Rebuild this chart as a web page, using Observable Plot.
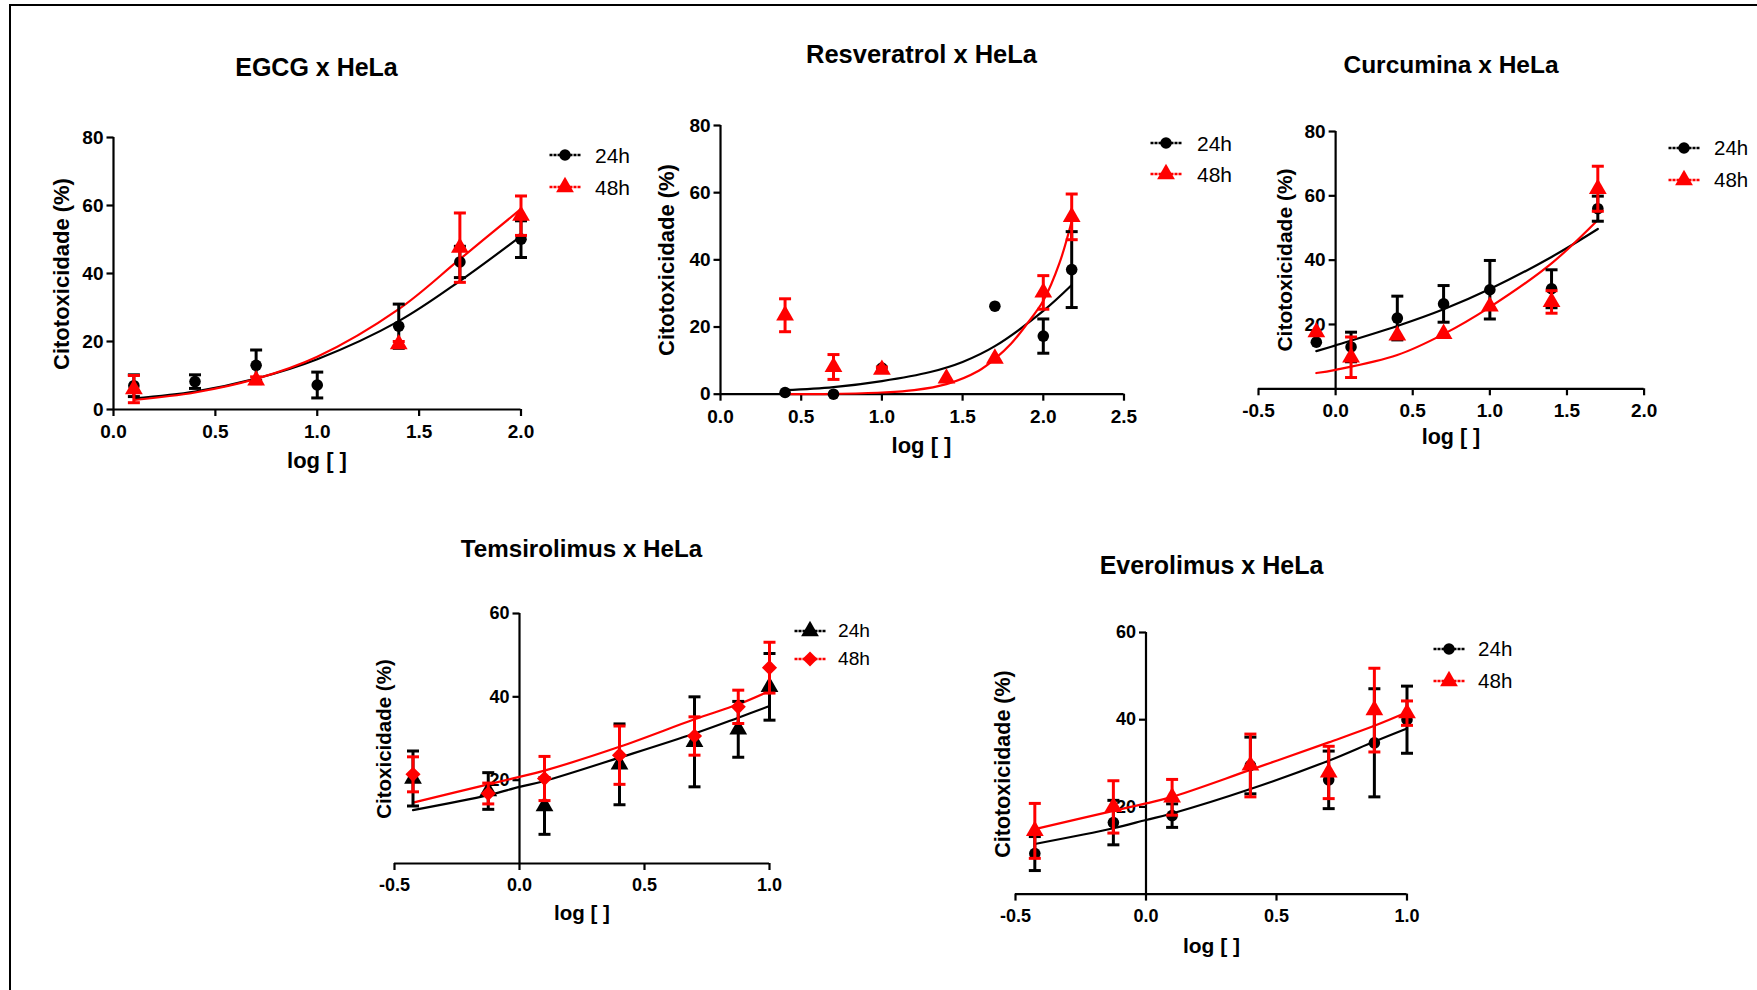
<!DOCTYPE html>
<html>
<head>
<meta charset="utf-8">
<script src="https://cdn.jsdelivr.net/npm/d3@7"></script>
<script src="https://cdn.jsdelivr.net/npm/@observablehq/plot@0.6"></script>
<style>
  html, body { margin: 0; padding: 0; background: #fff; }
  #root { position: relative; width: 1757px; height: 990px; overflow: hidden;
          font-family: "Liberation Sans", Arial, Helvetica, sans-serif; color: #000; }
  .frame { position: absolute; left: 9px; top: 4px; right: 0; bottom: 0;
           border-left: 2.5px solid #000; border-top: 2px solid #000; }
  .abs { position: absolute; white-space: nowrap; line-height: 1; }
  .plotbox { position: absolute; }
</style>
</head>
<body>
<div id="root"><div class="frame"></div></div>
<script>
// ================= DATA =================
// EGCG x HeLa
const egcgX      = [0.1, 0.4, 0.7, 1.0, 1.4, 1.7, 2.0];
const egcg24     = [7.0, 8.2, 13.0, 7.2, 24.5, 43.4, 50.1];
const egcg24sd   = [3.2, 2.0, 4.5, 3.8, 6.5, 4.6, 5.4];
const egcg48     = [6.0, null, 8.6, null, 19.2, 47.6, 57.0];
const egcg48sd   = [4.0, 0, 1.0, 0, 0.8, 10.2, 5.8];
const egcgFitX   = [0.1, 0.4, 0.7, 1.0, 1.4, 1.7, 2.0];
const egcgFit24  = [3.3, 5.3, 9.1, 14.8, 26.0, 37.8, 51.0];
const egcgFit48  = [2.8, 5.0, 9.0, 15.5, 29.5, 44.2, 59.0];

// Resveratrol x HeLa
const resX       = [0.4, 0.7, 1.0, 1.4, 1.7, 2.0, 2.176];
const res24      = [0.5, 0.0, 7.8, null, 26.2, 17.3, 37.1];
const res24sd    = [0, 0, 0, 0, 0, 5.1, 11.3];
const res48      = [23.5, 8.1, 7.3, 4.7, 10.6, 30.3, 52.8];
const res48sd    = [4.9, 3.7, 0.8, 0, 0, 5.0, 6.8];
const resFitX24  = [0.4, 0.7, 1.0, 1.3, 1.5, 1.7, 2.0, 2.176];
const resFit24   = [1.2, 2.1, 3.9, 6.6, 9.6, 14.3, 24.8, 32.5];
const resFitX48  = [0.4, 0.7, 1.0, 1.2, 1.4, 1.6, 1.7, 1.8, 1.9, 2.0, 2.1, 2.176];
const resFit48   = [0.0, 0.1, 0.5, 1.2, 3.0, 7.0, 10.5, 15.0, 21.0, 27.8, 39.0, 51.5];

// Curcumina x HeLa
const curX       = [-0.125, 0.1, 0.4, 0.7, 1.0, 1.4, 1.7];
const cur24      = [14.5, 13.0, 22.0, 26.4, 30.8, 31.1, 56.0];
const cur24sd    = [0, 4.6, 6.8, 5.7, 9.1, 5.9, 3.9];
const cur48      = [17.6, 9.8, 16.6, 17.1, 25.6, 27.0, 62.2];
const cur48sd    = [0, 6.3, 0, 0, 0, 3.5, 7.0];
const curFitX    = [-0.125, 0.0, 0.4, 0.7, 1.0, 1.4, 1.7];
const curFit24   = [11.7, 13.5, 19.5, 24.7, 31.0, 41.0, 49.7];
const curFit48   = [4.9, 5.9, 10.5, 17.0, 25.4, 39.0, 52.5];

// Temsirolimus x HeLa
const temX       = [-0.426, -0.125, 0.1, 0.4, 0.7, 0.875, 1.0];
const tem24      = [20.4, 17.4, 13.8, 23.8, 29.2, 32.2, 42.4];
const tem24sd    = [6.6, 4.4, 6.8, 9.7, 10.8, 6.7, 8.0];
const tem48      = [21.4, 16.8, 20.4, 26.0, 30.6, 37.6, 47.0];
const tem48sd    = [4.2, 2.5, 5.3, 7.0, 4.6, 4.0, 6.1];
const temFitX    = [-0.426, -0.125, 0.0, 0.1, 0.4, 0.7, 0.875, 1.0];
const temFit24   = [12.8, 16.4, 18.4, 19.8, 25.4, 31.2, 35.0, 37.8];
const temFit48   = [14.6, 19.0, 20.8, 22.3, 28.0, 34.6, 38.2, 41.4];

// Everolimus x HeLa
const eveX       = [-0.426, -0.125, 0.1, 0.4, 0.7, 0.875, 1.0];
const eve24      = [9.3, 16.4, 18.0, 29.5, 26.2, 34.7, 40.0];
const eve24sd    = [3.9, 5.1, 2.7, 6.5, 6.6, 12.4, 7.7];
const eve48      = [14.5, 20.0, 22.2, 29.5, 27.9, 42.2, 41.5];
const eve48sd    = [6.3, 6.0, 4.1, 7.2, 6.0, 9.6, 2.8];
const eveFitX    = [-0.426, -0.125, 0.0, 0.1, 0.4, 0.7, 0.875, 1.0];
const eveFit24   = [11.5, 15.1, 17.0, 18.5, 24.1, 30.6, 35.0, 38.0];
const eveFit48   = [14.9, 19.1, 20.8, 22.3, 28.5, 34.8, 38.6, 41.7];

// Axis ticks and labels
const seriesNames = ["24h", "48h"];
const titles = ["EGCG x HeLa", "Resveratrol x HeLa", "Curcumina x HeLa", "Temsirolimus x HeLa", "Everolimus x HeLa"];
const yLabels = ["Citotoxicidade (%)", "Citotoxicidade (%)", "Citotoxicidade (%)", "Citoxicidade (%)", "Citotoxicidade (%)"];
const xLabel = "log [ ]";
const xTicksA = [0, 0.5, 1.0, 1.5, 2.0];
const xTicksB = [0, 0.5, 1.0, 1.5, 2.0, 2.5];
const xTicksC = [-0.5, 0, 0.5, 1.0, 1.5, 2.0];
const xTicksD = [-0.5, 0, 0.5, 1.0];
const yTicks80 = [0, 20, 40, 60, 80];
const yTicks80b = [20, 40, 60, 80];
const yTicks60 = [20, 40, 60];

// ================= LAYOUT (pixel placement & styles) =================
const layout = [
  { px: [113, 520.5], py: [408.7, 136.7], title: [316.5, 66.5, 25], ylab: [61.5, 273.5, 22], xlab: [317, 461, 22],
    leg: [564.5, 155, 186.5, 595, 21], tick: 19 },
  { px: [719.5, 1123], py: [394, 125.3], title: [921.5, 55, 25.5], ylab: [667, 259.5, 22], xlab: [921.5, 446, 22],
    leg: [1166, 143.3, 174.3, 1197, 21], tick: 19 },
  { px: [1258.4, 1644], py: [388.3, 131], title: [1451, 65, 24.5], ylab: [1284, 260, 21], xlab: [1451, 438, 21.5],
    leg: [1684, 148.3, 179.5, 1714, 20.5], tick: 19 },
  { px: [393.6, 768.6], py: [863.3, 613.3], title: [581.5, 548.5, 24.2], ylab: [383.5, 739, 20.5], xlab: [582, 913, 20.5],
    leg: [810, 631, 659.3, 838, 19.2], tick: 18 },
  { px: [1015.2, 1406.7], py: [893.3, 631.7], title: [1211.5, 564.5, 25], ylab: [1004, 763.5, 21.5], xlab: [1211.5, 945, 21],
    leg: [1449, 649.3, 680.7, 1478, 20.6], tick: 18 }
];

const RED = "#ff0000", BLACK = "#000000";
const FONT = '"Liberation Sans", Arial, Helvetica, sans-serif';

const panels = [
  { x: egcgX, m24: egcg24, s24: egcg24sd, m48: egcg48, s48: egcg48sd,
    fx24: egcgFitX, f24: egcgFit24, fx48: egcgFitX, f48: egcgFit48,
    xDomain: [0, 2], yDomain: [0, 80], xTicks: xTicksA, yTicks: yTicks80,
    sym24: "circle", sym48: "triangle", c24: BLACK, c48: RED },
  { x: resX, m24: res24, s24: res24sd, m48: res48, s48: res48sd,
    fx24: resFitX24, f24: resFit24, fx48: resFitX48, f48: resFit48,
    xDomain: [0, 2.5], yDomain: [0, 80], xTicks: xTicksB, yTicks: yTicks80,
    sym24: "circle", sym48: "triangle", c24: BLACK, c48: RED },
  { x: curX, m24: cur24, s24: cur24sd, m48: cur48, s48: cur48sd,
    fx24: curFitX, f24: curFit24, fx48: curFitX, f48: curFit48,
    xDomain: [-0.5, 2.0], yDomain: [0, 80], xTicks: xTicksC, yTicks: yTicks80b,
    sym24: "circle", sym48: "triangle", c24: BLACK, c48: RED },
  { x: temX, m24: tem24, s24: tem24sd, m48: tem48, s48: tem48sd,
    fx24: temFitX, f24: temFit24, fx48: temFitX, f48: temFit48,
    xDomain: [-0.5, 1.0], yDomain: [0, 60], xTicks: xTicksD, yTicks: yTicks60,
    sym24: "triangle", sym48: "diamond2", c24: BLACK, c48: RED },
  { x: eveX, m24: eve24, s24: eve24sd, m48: eve48, s48: eve48sd,
    fx24: eveFitX, f24: eveFit24, fx48: eveFitX, f48: eveFit48,
    xDomain: [-0.5, 1.0], yDomain: [0, 60], xTicks: xTicksD, yTicks: yTicks60,
    sym24: "circle", sym48: "triangle", c24: BLACK, c48: RED }
];

// custom symbols: y-axis tick (pointing left) and error-bar cap
const yTickSym = { draw(ctx) { ctx.moveTo(-7, 0); ctx.lineTo(0, 0); } };
const capSym   = { draw(ctx) { ctx.moveTo(-6, 0); ctx.lineTo(6, 0); } };
const symR = { circle: 5.8, triangle: 6.6, diamond2: 6.8 };

const root = document.getElementById("root");

function addText(txt, cx, cy, size, weight, rotate) {
  const d = document.createElement("div");
  d.className = "abs";
  d.textContent = txt;
  d.style.left = cx + "px";
  d.style.top = cy + "px";
  d.style.fontSize = size + "px";
  d.style.fontWeight = weight;
  d.style.transform = "translate(-50%,-50%)" + (rotate ? " rotate(-90deg)" : "");
  root.appendChild(d);
}

function addLegendRow(name, sym, color, mx, my, tx, size) {
  const ns = "http://www.w3.org/2000/svg";
  const svg = document.createElementNS(ns, "svg");
  svg.setAttribute("width", 34); svg.setAttribute("height", 20);
  svg.style.position = "absolute";
  svg.style.left = (mx - 17) + "px"; svg.style.top = (my - 10) + "px";
  svg.style.overflow = "visible";
  const line = document.createElementNS(ns, "line");
  line.setAttribute("x1", 1.5); line.setAttribute("x2", 32.5);
  line.setAttribute("y1", 10); line.setAttribute("y2", 10);
  line.setAttribute("stroke", color); line.setAttribute("stroke-width", 2.5);
  line.setAttribute("stroke-dasharray", "3 1");
  svg.appendChild(line);
  const path = document.createElementNS(ns, "path");
  const symType = { circle: d3.symbolCircle, triangle: d3.symbolTriangle, diamond2: d3.symbolDiamond2 }[sym];
  const r = symR[sym];
  path.setAttribute("d", d3.symbol(symType, Math.PI * r * r)());
  path.setAttribute("transform", "translate(17,10)");
  path.setAttribute("fill", color);
  svg.appendChild(path);
  root.appendChild(svg);
  const t = document.createElement("div");
  t.className = "abs";
  t.textContent = name;
  t.style.left = tx + "px";
  t.style.top = my + "px";
  t.style.fontSize = size + "px";
  t.style.transform = "translateY(-50%)";
  root.appendChild(t);
}

panels.forEach((p, k) => {
  const lay = layout[k];
  const [x0, x1] = lay.px, [yb, yt] = lay.py;
  const mL = 60, mR = 40, mT = 30, mB = 50;
  const W = x1 - x0 + mL + mR, H = yb - yt + mT + mB;

  const rows = (ms, ss) => p.x.map((x, i) => ({ x, m: ms[i], s: ss[i] })).filter(d => d.m != null);
  const r24 = rows(p.m24, p.s24), r48 = rows(p.m48, p.s48);
  const e24 = r24.filter(d => d.s > 0), e48 = r48.filter(d => d.s > 0);
  const fit = (xs, ys) => xs.map((x, i) => ({ x, y: ys[i] }));

  const errMarks = (e, color) => [
    Plot.ruleX(e, { x: "x", y1: d => d.m - d.s, y2: d => d.m + d.s, stroke: color, strokeWidth: 3 }),
    Plot.dot(e, { x: "x", y: d => d.m + d.s, symbol: capSym, stroke: color, strokeWidth: 3, fill: "none" }),
    Plot.dot(e, { x: "x", y: d => d.m - d.s, symbol: capSym, stroke: color, strokeWidth: 3, fill: "none" })
  ];

  const chart = Plot.plot({
    width: W, height: H,
    marginLeft: mL, marginRight: mR, marginTop: mT, marginBottom: mB,
    x: { domain: p.xDomain },
    y: { domain: p.yDomain, axis: null },
    style: { fontFamily: FONT, fontSize: lay.tick + "px", fontWeight: "bold", background: "transparent", overflow: "visible", color: "#000" },
    marks: [
      Plot.ruleY([0], { stroke: BLACK, strokeWidth: 2.2 }),
      Plot.ruleX([0], { y1: p.yDomain[0], y2: p.yDomain[1], stroke: BLACK, strokeWidth: 2.2 }),
      Plot.axisX({ ticks: p.xTicks, tickSize: 7, tickPadding: 8, strokeWidth: 2.2,
                   tickFormat: d => d.toFixed(1), label: null }),
      Plot.dot(p.yTicks, { x: () => 0, y: d => d, symbol: yTickSym, stroke: BLACK, strokeWidth: 2.2, fill: "none" }),
      Plot.text(p.yTicks, { x: () => 0, y: d => d, text: d => String(d), dx: -10, textAnchor: "end", fill: BLACK }),
      Plot.line(fit(p.fx24, p.f24), { x: "x", y: "y", curve: "catmull-rom", stroke: p.c24, strokeWidth: 2.2 }),
      Plot.line(fit(p.fx48, p.f48), { x: "x", y: "y", curve: "catmull-rom", stroke: p.c48, strokeWidth: 2.2 }),
      ...errMarks(e24, p.c24),
      Plot.dot(r24, { x: "x", y: "m", symbol: p.sym24, r: symR[p.sym24], fill: p.c24, stroke: "none" }),
      ...errMarks(e48, p.c48),
      Plot.dot(r48, { x: "x", y: "m", symbol: p.sym48, r: symR[p.sym48], fill: p.c48, stroke: "none" })
    ]
  });
  const box = document.createElement("div");
  box.className = "plotbox";
  box.style.left = (x0 - mL) + "px";
  box.style.top = (yt - mT) + "px";
  box.appendChild(chart);
  root.appendChild(box);

  addText(titles[k], lay.title[0], lay.title[1], lay.title[2], "bold", false);
  addText(yLabels[k], lay.ylab[0], lay.ylab[1], lay.ylab[2], "bold", true);
  addText(xLabel, lay.xlab[0], lay.xlab[1], lay.xlab[2], "bold", false);
  addLegendRow(seriesNames[0], p.sym24, p.c24, lay.leg[0], lay.leg[1], lay.leg[3], lay.leg[4]);
  addLegendRow(seriesNames[1], p.sym48, p.c48, lay.leg[0], lay.leg[2], lay.leg[3], lay.leg[4]);
});
</script>
</body>
</html>
